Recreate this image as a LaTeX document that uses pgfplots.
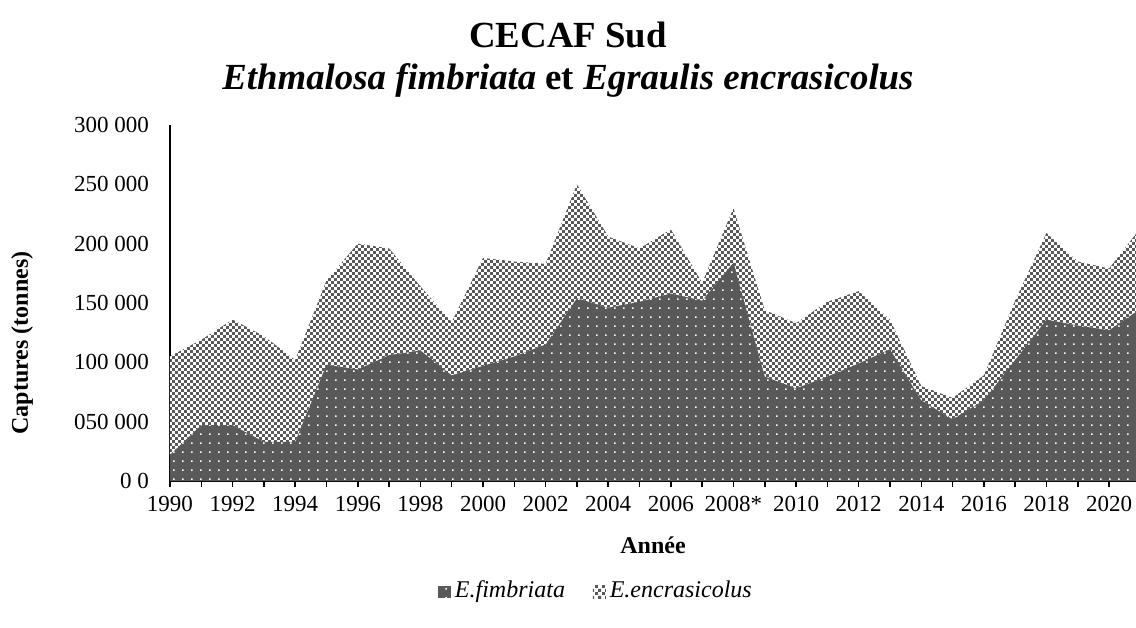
\documentclass[border=0pt]{standalone}
\usepackage{fontspec}
\setmainfont{Liberation Serif}
\usepackage{pgfplots}
\pgfplotsset{compat=1.18}
\usetikzlibrary{patterns.meta}
\definecolor{dgray}{RGB}{89,89,89}
\tikzdeclarepattern{name=wdots, type=uncolored,
  bottom left={(0pt,0pt)}, top right={(4.25pt,4.25pt)}, tile size={(4.25pt,4.25pt)},
  code={\fill (1.7pt,1.7pt) rectangle (2.5pt,2.5pt);}}
\tikzdeclarepattern{name=gcheck, type=uncolored,
  bottom left={(0pt,0pt)}, top right={(3.2pt,3.2pt)}, tile size={(3.2pt,3.2pt)},
  code={\fill (0.05pt,0.05pt) rectangle (1.55pt,1.55pt); \fill (1.65pt,1.65pt) rectangle (3.15pt,3.15pt);}}

\pgfplotstableread{
year fimb encr
1990 22000 83000
1991 47000 72000
1992 47000 89000
1993 33000 89000
1994 33000 69000
1995 98000 71000
1996 94000 106000
1997 106000 90000
1998 110000 54000
1999 89000 45000
2000 97000 91000
2001 105000 80000
2002 115000 68000
2003 154000 96000
2004 146000 60000
2005 151000 45000
2006 158000 54000
2007 152000 15000
2008 184000 46000
2009 88000 56000
2010 78000 55000
2011 88000 63000
2012 99000 61000
2013 111000 25000
2014 68000 12000
2015 52000 18000
2016 68000 21000
2017 102000 50000
2018 136000 73000
2019 131000 54000
2020 127000 52000
2021 145000 68000
}\datatable

\begin{document}
\begin{tikzpicture}
\begin{axis}[
  scale only axis, width=483pt, height=178pt,
  at={(0,0)}, anchor=south west,
  xmin=1990, xmax=2020.86, ymin=0, ymax=300000,
  axis lines=left,
  axis line style={line width=1pt, -},
  stack plots=y,
  scaled y ticks=false,
  xtick={1990,1992,...,2020},
  xticklabels={1990,1992,1994,1996,1998,2000,2002,2004,2006,2008*,2010,2012,2014,2016,2018,2020},
  minor xtick={1991,1993,...,2019},
  tick align=outside,
  major tick length=3pt, minor tick length=3pt,
  x tick style={line width=0.75pt, black},
  minor x tick style={line width=0.75pt, black},
  ytick={0,50000,100000,150000,200000,250000,300000},
  yticklabels={0 0,050 000,100 000,150 000,200 000,250 000,300 000},
  y tick style={draw=none},
  ticklabel style={font=\fontsize{11.5pt}{13pt}\selectfont},
  yticklabel style={xshift=-4pt},
  xticklabel style={yshift=-1pt},
  legend style={at={(0.442,-0.312)}, anchor=center, draw=none, legend columns=2,
    font=\itshape\fontsize{12pt}{14pt}\selectfont,
    nodes={text height=8.5pt, text depth=3pt},
    /tikz/every even column/.append style={column sep=12pt}},
  legend image code/.code={\path[#1, draw=none] (0pt,-3.2pt) rectangle (6.4pt,3.2pt);},
]
\addplot[draw=none, fill=dgray, postaction={pattern=wdots, pattern color=white}]
  table[x=year, y=fimb] {\datatable} \closedcycle;
\addlegendentry{E.fimbriata}
\addplot[draw=none, fill=white, postaction={pattern=gcheck, pattern color=dgray}]
  table[x=year, y=encr] {\datatable} \closedcycle;
\addlegendentry{E.encrasicolus}
\end{axis}
\node[font=\bfseries\fontsize{18.4pt}{22pt}\selectfont] at (199pt,223pt) {CECAF Sud};
\node[font=\bfseries\fontsize{18.4pt}{22pt}\selectfont] at (199pt,200.5pt) {\textit{Ethmalosa fimbriata} et \textit{Egraulis encrasicolus}};
\node[rotate=90, font=\bfseries\fontsize{12pt}{14pt}\selectfont] at (-74pt,69pt) {Captures (tonnes)};
\node[font=\bfseries\fontsize{12pt}{14pt}\selectfont] at (241.5pt,-32pt) {Année};
\pgfresetboundingbox
\useasboundingbox (-85pt,-73pt) rectangle (483pt,240.5pt);
\end{tikzpicture}
\end{document}
